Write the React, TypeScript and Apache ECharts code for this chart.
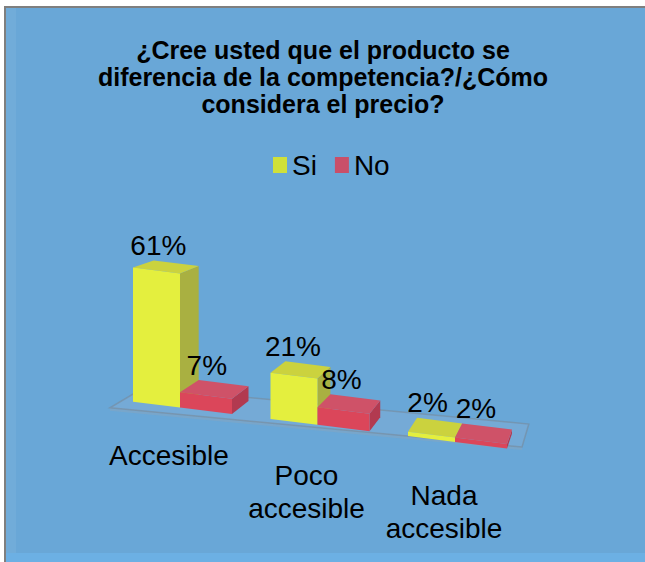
import React, { useEffect, useRef } from "react";
import * as echarts from "echarts";

const titleLines = [
  "¿Cree usted que el producto se",
  "diferencia de la competencia?/¿Cómo",
  "considera el precio?",
];
const categories = ["Accesible", "Poco\naccesible", "Nada\naccesible"];
const seriesNames = ["Si", "No"];
const siValues = [61, 21, 2];
const noValues = [7, 8, 2];

const FONT = '"Liberation Sans", Arial, Helvetica, sans-serif';

// Face colours of the 3D columns: front, top, right side, legend swatch
const FACES = [
  { front: "#e4ef3e", top: "#cbd23e", side: "#a9b041", legend: "#cfe03a" },
  { front: "#db465a", top: "#cf5268", side: "#b23a50", legend: "#c94f69" },
];

// Simple oblique/perspective projection helpers
const VP = [625, 100]; // vanishing point of the depth lines
const DEPTH = 0.042; // column depth as a fraction of the way to VP
const FLOOR_DEPTH = 0.066; // floor depth
const SLOPE = 0.125; // tilt of the category axis on screen
const BAR_W = [47, 52]; // front-face widths of the two series

const toBack = (p: number[], f: number) => [
  p[0] + f * (VP[0] - p[0]),
  p[1] + f * (VP[1] - p[1]),
];

function baseLine(api: any) {
  const [x0, y0] = api.coord([0, 0]);
  const left = x0 - api.size([1, 0])[0] / 2;
  return (x: number) => y0 + SLOPE * (x - left);
}

function barRenderer(sIdx: number) {
  return (_params: any, api: any) => {
    const cat = api.value(0);
    const val = api.value(1);
    const [cx] = api.coord([cat, 0]);
    const yb = baseLine(api);
    const h = api.size([0, val])[1];
    const xl = sIdx === 0 ? cx - BAR_W[0] : cx;
    const xr = xl + BAR_W[sIdx];
    const flb = [xl, yb(xl)];
    const frb = [xr, yb(xr)];
    const flt = [xl, yb(xl) - h];
    const frt = [xr, yb(xr) - h];
    const blt = toBack(flt, DEPTH);
    const brt = toBack(frt, DEPTH);
    const brb = toBack(frb, DEPTH);
    const c = FACES[sIdx];
    const frontCx = (xl + xr) / 2;
    const backCx = (blt[0] + brt[0]) / 2;
    const backTop = (blt[1] + brt[1]) / 2;
    return {
      type: "group",
      children: [
        {
          type: "polygon",
          shape: { points: [frb, frt, brt, brb] },
          style: { fill: c.side },
        },
        {
          type: "polygon",
          shape: { points: [flt, frt, brt, blt] },
          style: { fill: c.top },
        },
        {
          type: "polygon",
          shape: { points: [flb, frb, frt, flt] },
          style: { fill: c.front },
        },
        {
          type: "text",
          style: {
            text: `${val}%`,
            x: (frontCx + backCx) / 2 - 8,
            y: backTop - 18,
            align: "center",
            verticalAlign: "middle",
            fill: "#000",
            fontSize: 28,
            fontFamily: FONT,
          },
        },
      ],
    };
  };
}

function floorRenderer(_params: any, api: any) {
  const yb = baseLine(api);
  const first = api.coord([0, 0])[0];
  const last = api.coord([categories.length - 1, 0])[0];
  const xL = first - 70;
  const xR = last + 67;
  const front = (x: number) => yb(x) + 9 - 0.03 * (x - xL);
  const fl = [xL, front(xL)];
  const fr = [xR, front(xR)];
  const bl = toBack(fl, FLOOR_DEPTH);
  const br = toBack(fr, FLOOR_DEPTH);
  return {
    type: "group",
    silent: true,
    children: [
      {
        type: "polygon",
        shape: { points: [fl, fr, [fr[0], fr[1] + 3], [fl[0], fl[1] + 3]] },
        style: { fill: "rgba(150,165,180,0.35)" },
      },
      {
        type: "polygon",
        shape: { points: [fl, fr, br, bl] },
        style: {
          fill: "rgba(170,190,210,0.18)",
          stroke: "rgba(120,135,150,0.55)",
          lineWidth: 1.5,
        },
      },
    ],
  };
}

function categoryLabelRenderer(_params: any, api: any) {
  const idx = api.value(0);
  const [cx] = api.coord([idx, 0]);
  const first = api.coord([0, 0])[0];
  const yb = baseLine(api);
  const lineH = 33;
  return {
    type: "text",
    silent: true,
    style: {
      text: categories[idx],
      x: cx - 11,
      y: yb(cx) + 48 + 0.02 * (cx - first) - lineH / 2,
      align: "center",
      verticalAlign: "top",
      lineHeight: lineH,
      fill: "#000",
      fontSize: 28,
      fontFamily: FONT,
    },
  };
}

export default function App() {
  const ref = useRef<HTMLDivElement>(null);

  useEffect(() => {
    if (!ref.current) return;
    const chart = echarts.init(ref.current, undefined, { renderer: "svg" });
    const valueSets = [siValues, noValues];

    chart.setOption({
      animation: false,
      backgroundColor: "#ffffff",
      graphic: [
        {
          type: "rect",
          silent: true,
          z: -10,
          shape: { x: 5, y: 7, width: 640, height: 555 },
          style: { fill: "#69a7d7" },
        },
        {
          type: "rect",
          silent: true,
          z: -9,
          shape: { x: 6, y: 553, width: 639, height: 9 },
          style: { fill: "#6cb0e4" },
        },
        {
          type: "rect",
          silent: true,
          z: -9,
          shape: { x: 6, y: 8, width: 10, height: 545 },
          style: { fill: "rgba(255,255,255,0.06)" },
        },
        {
          type: "line",
          silent: true,
          z: -8,
          shape: { x1: 4, y1: 7, x2: 645, y2: 7 },
          style: { stroke: "#7f7f7f", lineWidth: 2 },
        },
        {
          type: "line",
          silent: true,
          z: -8,
          shape: { x1: 5, y1: 6, x2: 5, y2: 562 },
          style: { stroke: "#7f7f7f", lineWidth: 2 },
        },
      ],
      title: {
        text: titleLines.join("\n"),
        left: 318,
        top: 31,
        textAlign: "center",
        textStyle: {
          fontSize: 25,
          fontWeight: "bold",
          lineHeight: 27,
          color: "#000",
          fontFamily: FONT,
        },
      },
      legend: {
        data: seriesNames,
        left: 268,
        top: 146,
        icon: "rect",
        itemWidth: 14,
        itemHeight: 16,
        itemGap: 18,
        textStyle: { fontSize: 28, color: "#000", fontFamily: FONT },
      },
      grid: { left: 111.25, width: 412.5, top: 179, height: 220 },
      xAxis: {
        type: "category",
        data: categories,
        show: false,
      },
      yAxis: { type: "value", min: 0, max: 100, show: false },
      series: [
        {
          name: "floor",
          type: "custom",
          silent: true,
          clip: false,
          z: 1,
          renderItem: floorRenderer,
          data: [[0, 0]],
        },
        ...seriesNames.map((name, s) => ({
          name,
          type: "custom",
          clip: false,
          z: 2 + s,
          itemStyle: { color: FACES[s].legend },
          renderItem: barRenderer(s),
          data: valueSets[s].map((v, i) => [i, v]),
        })),
        {
          name: "labels",
          type: "custom",
          silent: true,
          clip: false,
          z: 5,
          renderItem: categoryLabelRenderer,
          data: categories.map((_c, i) => [i, 0]),
        },
      ],
    });

    return () => chart.dispose();
  }, []);

  return (
    <div
      ref={ref}
      style={{ position: "absolute", left: 0, top: 0, width: 645, height: 562 }}
    />
  );
}
